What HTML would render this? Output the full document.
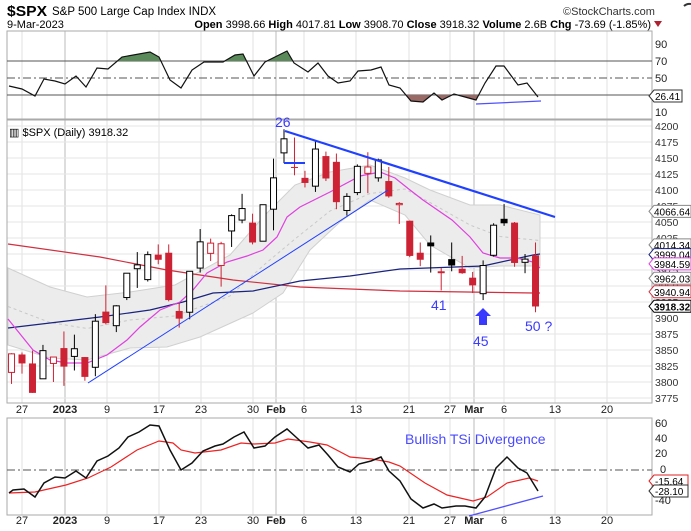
<!DOCTYPE html>
<html><head><meta charset="utf-8"><style>
body{margin:0;background:#fff;width:691px;height:531px;overflow:hidden;font-family:"Liberation Sans",sans-serif}
svg{display:block}
text{font-family:"Liberation Sans",sans-serif}
</style></head><body>
<svg id="s" width="691" height="531" xmlns="http://www.w3.org/2000/svg">
<rect width="691" height="531" fill="#fff"/>
<text x="7" y="16" font-size="15" font-weight="bold" fill="#000" textLength="40" lengthAdjust="spacingAndGlyphs">$SPX</text>
<text x="52" y="15" font-size="11.5" fill="#000">S&amp;P 500 Large Cap Index  INDX</text>
<text x="563" y="15" font-size="11" fill="#333">©StockCharts.com</text>
<text x="7" y="28" font-size="11" fill="#000">9-Mar-2023</text>
<text x="651" y="28" font-size="11" fill="#000" text-anchor="end"><tspan font-weight="bold">Open</tspan> 3998.66 <tspan font-weight="bold">High</tspan> 4017.81 <tspan font-weight="bold">Low</tspan> 3908.70 <tspan font-weight="bold">Close</tspan> 3918.32 <tspan font-weight="bold">Volume</tspan> 2.6B <tspan font-weight="bold">Chg</tspan> -73.69 (-1.85%)</text>
<polygon points="654,21 662,21 658,27" fill="#b02030"/>
<path d="M684,6 A8,8 0 0 1 691,4" stroke="#333" stroke-width="2" fill="none"/>
<g id="grid"></g>
<rect x="7" y="31" width="645" height="88" fill="none" stroke="#aaa"/>
<line x1="7" y1="61" x2="652" y2="61" stroke="#555"/>
<line x1="7" y1="78" x2="652" y2="78" stroke="#555" stroke-dasharray="8,3,2,3"/>
<line x1="7" y1="95" x2="652" y2="95" stroke="#555"/>
<g id="rsi"></g>
<line x1="476" y1="104" x2="541" y2="101" stroke="#5050ff" stroke-width="1.3"/>
<g font-size="11" fill="#222">
<text x="655" y="48">90</text><text x="655" y="65">70</text><text x="655" y="82">50</text><text x="655" y="116">10</text>
</g>
<polygon points="649,96 654,90 682,90 682,102 654,102" fill="#fff" stroke="#333"/>
<text x="655" y="100" font-size="10" fill="#000">26.41</text>
<rect x="7" y="120" width="645" height="283" fill="none" stroke="#aaa"/>
<g id="main"></g>
<text x="9" y="136" font-size="11" fill="#000">▥ $SPX (Daily) 3918.32</text>
<g font-size="14" fill="#3a3aff">
<text x="275" y="127">26</text><text x="431" y="310">41</text><text x="473" y="346">45</text><text x="525" y="331">50 ?</text>
</g>
<polygon points="483,308 491,316 487,316 487,325 479,325 479,316 475,316" fill="#3a3aff"/>
<g font-size="10.5" fill="#333" id="plab"></g>
<g id="tags"></g>
<g font-size="11" fill="#222" id="xl"></g>
<rect x="7" y="418" width="645" height="97" fill="none" stroke="#aaa"/>
<line x1="7" y1="470" x2="652" y2="470" stroke="#555" stroke-dasharray="8,3,2,3"/>
<g id="tsi"></g>
<line x1="469" y1="516" x2="543" y2="496" stroke="#5050ff" stroke-width="1.3"/>
<text x="405" y="444" font-size="14" fill="#4a4aff">Bullish TSi Divergence</text>
<g font-size="11" fill="#222">
<text x="655" y="427">60</text><text x="655" y="442">40</text><text x="655" y="457">20</text><text x="660" y="473">0</text><text x="655" y="504">-40</text>
</g>
<polygon points="649,481 654,475 688,475 688,487 654,487" fill="#fff" stroke="#e02020"/>
<text x="655" y="485" font-size="10" fill="#000">-15.64</text>
<polygon points="649,491 654,485 688,485 688,497 654,497" fill="#fff" stroke="#333"/>
<text x="655" y="495" font-size="10" fill="#000">-28.10</text>
</svg>
<script>
var NS="http://www.w3.org/2000/svg";
function el(p,t,a){var e=document.createElementNS(NS,t);for(var k in a)e.setAttribute(k,a[k]);document.getElementById(p).appendChild(e);return e;}
function X(i){return 22+10.48*i;}
function Y(p){return 190+(4100-p)*0.64;}
var vx=[22,65,107,159,201,253,276,304,356,409,450,474,504,555,607];
var strong={65:1,276:1,474:1};
vx.forEach(function(x){[[31,119],[120,403],[418,515]].forEach(function(r){el("grid","line",{x1:x,y1:r[0],x2:x,y2:r[1],stroke:strong[x]?"#bbb":"#e2e2e2"});});});
for(var p=3775;p<=4200;p+=25){el("grid","line",{x1:7,y1:Y(p),x2:652,y2:Y(p),stroke:"#e6e6e6"});}
[["27",22],["2023",65,1],["9",107],["17",159],["23",201],["30",253],["Feb",276,1],["6",304],["13",356],["21",409],["27",450],["Mar",474,1],["6",504],["13",555],["20",607]].forEach(function(l){[413,524].forEach(function(y){var t=el("xl","text",{x:l[1],y:y,"text-anchor":"middle"});if(l[2])t.setAttribute("font-weight","bold");t.textContent=l[0];});});
var rsi=[[9,86],[22,89],[35,96],[44,79],[55,81],[65,84],[76,76],[86,87],[97,68],[108,69],[122,57],[150,52],[159,57],[170,80],[181,88],[192,70],[204,62],[223,62],[235,55],[243,54],[254,76],[265,62],[287,51],[294,63],[308,72],[318,63],[328,76],[338,83],[350,81],[358,71],[371,70],[381,67],[389,85],[400,88],[411,101],[423,102],[434,93],[442,100],[454,94],[465,97],[476,100],[485,83],[496,66],[504,66],[518,85],[527,83],[538,97]];
var pts=rsi.map(function(a){return a.join(",")}).join(" ");
var defs=el("rsi","defs",{});
var c1=document.createElementNS(NS,"clipPath");c1.setAttribute("id","ca");defs.appendChild(c1);
var r1=document.createElementNS(NS,"rect");r1.setAttribute("x",0);r1.setAttribute("y",0);r1.setAttribute("width",700);r1.setAttribute("height",61);c1.appendChild(r1);
var c2=document.createElementNS(NS,"clipPath");c2.setAttribute("id","cb");defs.appendChild(c2);
var r2=document.createElementNS(NS,"rect");r2.setAttribute("x",0);r2.setAttribute("y",95);r2.setAttribute("width",700);r2.setAttribute("height",40);c2.appendChild(r2);
el("rsi","polygon",{points:"9,61 "+pts+" 538,61",fill:"#5a8a5a","clip-path":"url(#ca)"});
el("rsi","polygon",{points:"9,95 "+pts+" 538,95",fill:"#9a6a66","clip-path":"url(#cb)"});
el("rsi","polyline",{points:pts,fill:"none",stroke:"#111","stroke-width":1.2});
var up=[[8,268],[50,287],[87,297],[130,292],[175,285],[230,255],[265,215],[295,185],[330,172],[370,165],[405,178],[430,190],[470,205],[500,205],[540,215]];
var lo=[[8,345],[50,358],[87,360],[130,348],[167,347],[200,337],[253,313],[283,293],[310,250],[340,222],[370,200],[405,215],[430,245],[470,268],[500,266],[540,266]];
el("main","polygon",{points:up.concat(lo.slice().reverse()).map(function(a){return a.join(",")}).join(" "),fill:"#ececec",stroke:"#d0d0d0"});
var mid=up.map(function(a,i){var b=lo[Math.min(i,lo.length-1)];return a[0]+","+((a[1]+b[1])/2);}).join(" ");
el("main","polyline",{points:mid,fill:"none",stroke:"#c8c8c8","stroke-dasharray":"3,3"});
el("main","polyline",{points:"8,244 100,257 167,270 233,280 300,287 400,291 533,293 540,293",fill:"none",stroke:"#d03040","stroke-width":1.2});
el("main","polyline",{points:"8,328 50,323 100,317 150,310 183,302 213,293 253,291 300,281 350,276 400,269 483,266 533,255 540,254",fill:"none",stroke:"#1a237e","stroke-width":1.2});
el("main","polyline",{points:"8,319 33,350 50,360 67,363 87,363 107,355 127,340 140,327 160,310 180,302 193,290 207,273 227,262 247,256 263,250 277,237 287,217 300,207 330,192 360,176 380,172 395,178 410,190 423,200 452,220 470,237 483,253 500,258 517,258 533,262 540,268",fill:"none",stroke:"#e040e0","stroke-width":1.2});
var d=[[3815,3845,3797,3844],[3843,3846,3813,3829],[3829,3849,3783,3783],[3805,3858,3805,3849],[3829,3839,3800,3839],[3853,3879,3794,3824],[3840,3874,3818,3852],[3839,3839,3802,3808],[3823,3906,3809,3895],[3910,3951,3890,3892],[3888,3920,3878,3919],[3932,3970,3928,3970],[3977,4003,3947,3983],[3960,4004,3957,3999],[3999,4015,3984,3991],[4002,4015,3926,3928],[3911,3923,3885,3899],[3909,3973,3898,3973],[3978,4039,3971,4019],[4001,4024,3989,4017],[3982,4019,3949,4016],[4036,4062,4011,4060],[4053,4094,4048,4071],[4049,4063,4015,4018],[4020,4077,4020,4077],[4070,4149,4037,4119],[4158,4195,4142,4180],[4136,4182,4123,4136],[4119,4130,4104,4111],[4106,4176,4097,4164],[4153,4160,4114,4118],[4144,4157,4070,4081],[4068,4095,4060,4090],[4096,4140,4092,4137],[4126,4159,4095,4136],[4119,4149,4113,4147],[4114,4136,4088,4090],[4077,4081,4047,4079],[4052,4052,3995,3997],[4002,4018,3981,3991],[4018,4029,3971,4012],[3973,3978,3943,3970],[3992,4018,3973,3982],[3977,3997,3969,3970],[3963,3972,3939,3951],[3938,3990,3928,3982],[3998,4048,3996,4045],[4055,4078,4044,4048],[4049,4050,3980,3986],[3987,4000,3970,3992],[3998,4018,3909,3918]];
var prev=3845;
d.forEach(function(c,k){var i=k-1,x=X(i);var col=c[3]>=prev?"#000":"#cc2233";prev=c[3];
el("main","line",{x1:x,y1:Y(c[1]),x2:x,y2:Y(c[2]),stroke:col});
var t=Math.min(Y(c[0]),Y(c[3])),b=Math.max(Y(c[0]),Y(c[3]));if(b-t<1)b=t+1;
if(c[3]>c[0])el("main","rect",{x:x-3,y:t,width:6,height:b-t,fill:"#fff",stroke:col});
else el("main","rect",{x:x-3.5,y:t,width:7,height:b-t,fill:col});});
el("main","line",{x1:285,y1:131,x2:555,y2:217,stroke:"#2040ff","stroke-width":2.2});
el("main","line",{x1:88,y1:383,x2:388,y2:190,stroke:"#2040ff","stroke-width":1});
el("main","line",{x1:284,y1:163,x2:305,y2:163,stroke:"#2040ff","stroke-width":2});
for(var p=3775;p<=4200;p+=25){var t=el("plab","text",{x:655,y:Y(p)+4});t.textContent=p;}
function tag(v,col,bold,txt){var y=Y(v);el("tags","polygon",{points:"649,"+y+" 654,"+(y-6)+" 691,"+(y-6)+" 691,"+(y+6)+" 654,"+(y+6),fill:"#fff",stroke:col});var t=el("tags","text",{x:654,y:y+4,"font-size":10,fill:"#000"});if(bold)t.setAttribute("font-weight","bold");t.textContent=txt;}
tag(4066.64,"#888",0,"4066.64");tag(4014.34,"#888",0,"4014.34");tag(3999.04,"#1a237e",0,"3999.04");tag(3984.59,"#e040e0",0,"3984.59");tag(3962.03,"#888",0,"3962.03");tag(3940.94,"#d03040",0,"3940.94");tag(3918.32,"#000",1,"3918.32");
el("tsi","polyline",{points:"9,493 35,492 66,485 88,478 111,467 137,450 159,441 173,443 181,450 195,453 221,450 241,443 254,444 275,443 288,439 310,442 327,445 350,457 372,459 389,462 400,466 425,483 447,495 473,501 487,497 507,483 529,478 538,481",fill:"none",stroke:"#ee2222","stroke-width":1.2});
el("tsi","polyline",{points:"9,493 13,490 24,489 35,497 44,483 55,477 65,478 76,471 86,478 97,461 108,456 119,448 128,437 139,432 150,425 159,426 170,450 181,470 192,463 203,451 215,446 223,444 234,437 244,432 254,448 265,446 275,437 287,429 297,438 308,448 319,445 328,455 338,467 350,472 359,464 371,461 381,457 389,471 400,481 411,499 423,508 434,504 442,508 456,506 465,506 476,508 485,497 496,468 507,457 518,468 527,473 538,491",fill:"none",stroke:"#111","stroke-width":1.5});
</script>
</body></html>
